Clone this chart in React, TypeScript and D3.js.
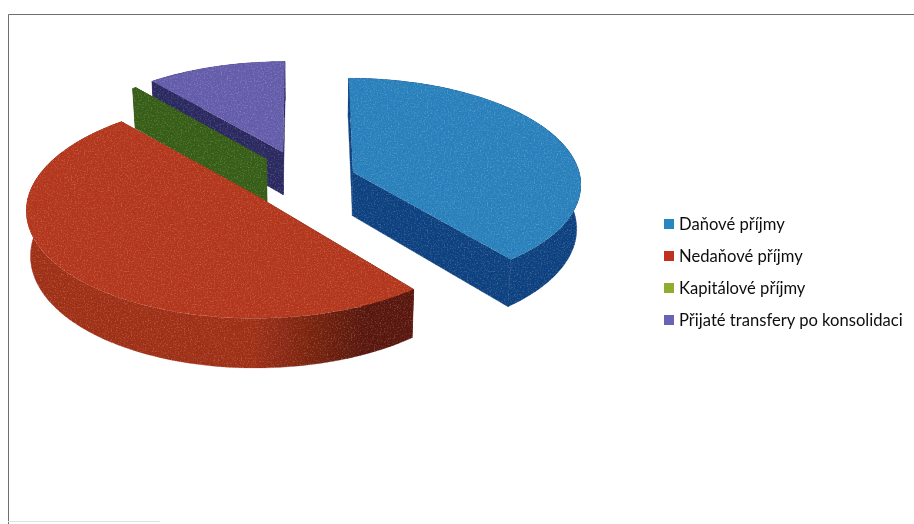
import React from 'react';
import * as d3 from 'd3';

// values, share of total income in %
const categories = ['Daňové příjmy', 'Nedaňové příjmy', 'Kapitálové příjmy', 'Přijaté transfery po konsolidaci'];
const values = [39.2, 49.4, 0.3, 11.1];
const explode = [0.225, 0.255, 0.265, 0.29];
const topColors = ['#2c88c6', '#bd3a1d', '#3a6318', '#6a62b4'];
const wallStart = ['#0c4587', '#a83318', '#3a6318', '#2d2c66'];
const wallEnd = ['#0b3a72', '#5e1a0c', '#3a6318', '#2d2c66'];
const legendColors = ['#2b86c0', '#bf3324', '#8fae2e', '#6a62b4'];
const drawOrder = [3, 2, 1, 0];

const width = 914;
const height = 524;
const cx = 305;
const cy = 180;
const rx = 228;
const ry = 105;
const persp = 0.1;
const depth = 44;
const shrink = 0.985; // the lower rim sits further from the viewer

type Pt = [number, number];

// unit disc -> screen, v grows toward the viewer
function project(u: number, v: number, drop = 0): Pt {
  const s = 1 / (1 - persp * v);
  const k = drop > 0 ? shrink : 1;
  return [cx + rx * u * s * k, cy + ry * v * s + drop * s];
}

const line = d3.line<Pt>();

export default function App() {
  const arcs = d3.pie<number>().sort(null)(values);

  const slices = arcs.map((a, i) => {
    const mid = (a.startAngle + a.endAngle) / 2;
    const ou = explode[i] * Math.sin(mid);
    const ov = -explode[i] * Math.cos(mid);
    const n = Math.max(2, Math.ceil((a.endAngle - a.startAngle) * 40));
    const angles = d3.range(n + 1).map((k) => a.startAngle + ((a.endAngle - a.startAngle) * k) / n);
    const rim = (drop: number) =>
      angles.map((t) => project(ou + Math.sin(t), ov - Math.cos(t), drop));
    const apex = (drop: number) => project(ou, ov, drop);
    const rimTop = rim(0);
    const rimBot = rim(depth);
    const top = line([apex(0), ...rimTop])! + 'Z';
    const outer = line([...rimTop, ...[...rimBot].reverse()])! + 'Z';
    const wallA = line([apex(0), rimTop[0], rimBot[0], apex(depth)])! + 'Z';
    const wallB = line([apex(0), rimTop[n], rimBot[n], apex(depth)])! + 'Z';
    return { top, outer, wallA, wallB };
  });

  return (
    <svg
      width={width}
      height={height}
      style={{ position: 'absolute', left: 0, top: 0, background: '#fff' }}
    >
      <defs>
        {/* scanned paper look */}
        <filter id="soft" x="0" y="0" width="100%" height="100%">
          <feGaussianBlur stdDeviation="0.45" />
        </filter>
        <filter id="grain" x="0" y="0" width="100%" height="100%">
          <feTurbulence type="fractalNoise" baseFrequency="0.7" numOctaves={2} seed={4} result="n" />
          <feColorMatrix in="n" type="saturate" values="0" result="g" />
          <feComposite in="SourceGraphic" in2="g" operator="arithmetic" k1={0.55} k2={0.72} k3={0} k4={0} result="c" />
          <feComposite in="c" in2="SourceAlpha" operator="in" />
          <feGaussianBlur stdDeviation="0.4" />
        </filter>
        {categories.map((c, i) => (
          <linearGradient key={c} id={`wall${i}`} gradientUnits="userSpaceOnUse" x1={30} x2={400} y1={0} y2={0}>
            <stop offset="0" stopColor={wallStart[i]} />
            <stop offset="0.6" stopColor={wallStart[i]} />
            <stop offset="0.9" stopColor={wallEnd[i]} />
            <stop offset="1" stopColor={wallEnd[i]} />
          </linearGradient>
        ))}
      </defs>
      <g filter="url(#soft)">
        <path d={`M8.5,${height}V14.5H${width}`} fill="none" stroke="#6e6e6e" strokeWidth={1} />
        <path d={`M8,521.5H160`} fill="none" stroke="#e2e2e2" strokeWidth={1} />
      </g>
      <g filter="url(#grain)">
        {drawOrder.map((i) => {
          const wall = i === 1 ? `url(#wall${i})` : wallStart[i];
          return (
            <g key={categories[i]}>
              <path d={slices[i].wallA} fill={wall} stroke={wall} strokeWidth={0.6} />
              <path d={slices[i].wallB} fill={wall} stroke={wall} strokeWidth={0.6} />
              <path d={slices[i].outer} fill={wall} stroke={wall} strokeWidth={0.6} />
              <path d={slices[i].top} fill={topColors[i]} />
            </g>
          );
        })}
      </g>
      <g filter="url(#soft)">
        {categories.map((c, i) => (
          <g key={c} transform={`translate(664,${224 + i * 32})`}>
            <rect x={0} y={-5} width={10} height={10} fill={legendColors[i]} />
            <text x={15} y={5.5} fontFamily="Lato, 'Open Sans', sans-serif" fontSize={16.6} fill="#111">
              {c}
            </text>
          </g>
        ))}
      </g>
    </svg>
  );
}
